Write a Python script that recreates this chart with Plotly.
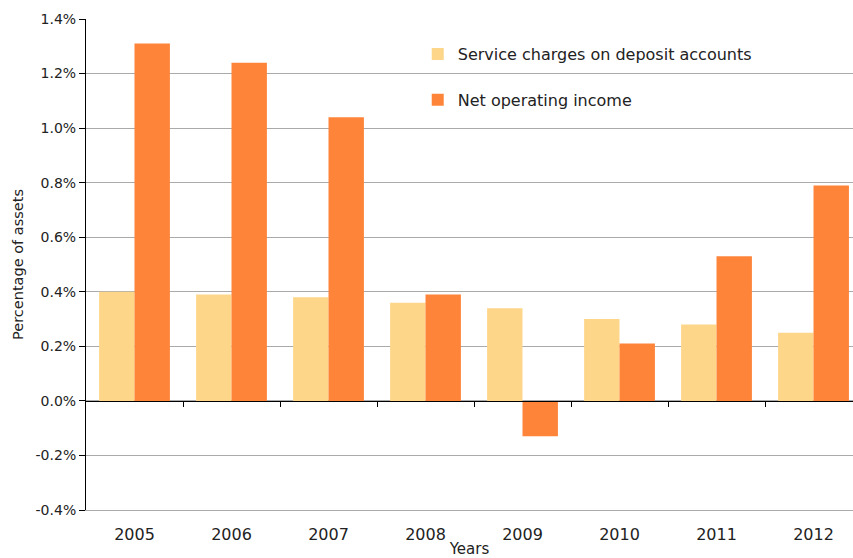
import plotly.graph_objects as go

years = ["2005", "2006", "2007", "2008", "2009", "2010", "2011", "2012"]
service_charges = [0.40, 0.39, 0.38, 0.36, 0.34, 0.30, 0.28, 0.25]
net_operating_income = [1.31, 1.24, 1.04, 0.39, -0.13, 0.21, 0.53, 0.79]
y_tickvals = [-0.4, -0.2, 0.0, 0.2, 0.4, 0.6, 0.8, 1.0, 1.2, 1.4]
y_ticktext = ["-0.4%", "-0.2%", "0.0%", "0.2%", "0.4%", "0.6%", "0.8%", "1.0%", "1.2%", "1.4%"]
boundary_vals = [0.5, 1.5, 2.5, 3.5, 4.5, 5.5, 6.5]

FONT = "DejaVu Sans"
TXT = "#222222"

fig = go.Figure()
fig.add_trace(go.Bar(x=years, y=service_charges, name="Service charges on deposit accounts",
                     marker=dict(color="#FED68A", line=dict(width=0)), legendgroup="a"))
fig.add_trace(go.Bar(x=years, y=net_operating_income, name="Net operating income",
                     marker=dict(color="#FE843A", line=dict(width=0)), legendgroup="b"))

ymin, ymax = -0.4, 1.4
xr = [-0.5, 7.407]
fig.update_layout(
    width=853, height=558,
    margin=dict(l=86, r=0, t=19, b=48, autoexpand=False),
    paper_bgcolor="white", plot_bgcolor="white",
    font=dict(family=FONT, size=15, color=TXT),
    barmode="group", bargap=0.27, bargroupgap=0,
    showlegend=True,
    legend=dict(x=0.4325, y=0.963, xanchor="left", yanchor="top",
                bgcolor="rgba(0,0,0,0)", tracegroupgap=22,
                font=dict(family=FONT, size=16, color=TXT)),
    xaxis=dict(range=xr, showgrid=False, zeroline=False,
               showline=True, linecolor="#AAAAAA", linewidth=1, ticks="",
               automargin=False, ticklabelstandoff=10,
               tickfont=dict(size=16, color=TXT),
               title=dict(text="Years", font=dict(size=15, color=TXT), standoff=16)),
    xaxis2=dict(range=xr, overlaying="x", anchor="free",
                position=(0 - ymin) / (ymax - ymin), automargin=False,
                showgrid=False, zeroline=False, showline=True, linecolor="black", linewidth=1.2,
                tickmode="array", tickvals=boundary_vals, ticktext=[""] * len(boundary_vals),
                ticks="outside", ticklen=5, tickcolor="black", tickwidth=1,
                showticklabels=False),
    yaxis=dict(range=[ymin, ymax], tickmode="array", tickvals=y_tickvals, ticktext=y_ticktext,
               automargin=False,
               showgrid=True, gridcolor="#AAAAAA", gridwidth=1, zeroline=False,
               showline=True, linecolor="black", linewidth=1,
               ticks="outside", ticklen=6, tickcolor="black",
               tickfont=dict(size=14, color=TXT),
               title=dict(text="Percentage of assets", font=dict(size=14.5, color=TXT), standoff=8)),
)
fig.add_trace(go.Scatter(x=[years[0]], y=[0], xaxis="x2", mode="markers",
                         marker=dict(opacity=0), showlegend=False, hoverinfo="skip"))
fig.write_html("out.html", config={"displayModeBar": False},
               post_script="document.body.style.margin='0';")
